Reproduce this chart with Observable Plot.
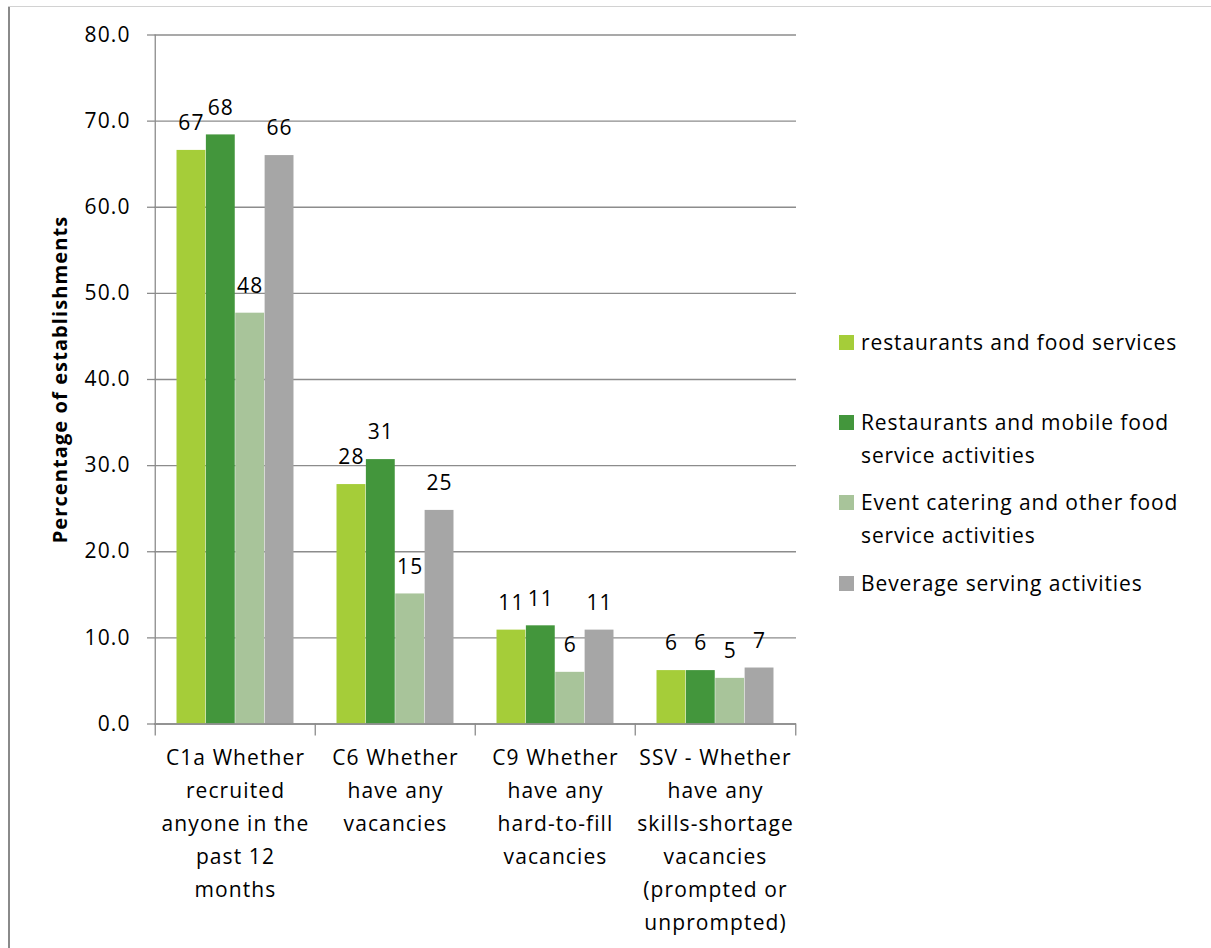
<!DOCTYPE html>
<html>
<head>
<meta charset="utf-8">
<script src="https://cdn.jsdelivr.net/npm/d3@7"></script>
<script src="https://cdn.jsdelivr.net/npm/@observablehq/plot@0.6"></script>
<style>
  html, body { margin: 0; padding: 0; background: #fff; }
  body { width: 1211px; height: 948px; position: relative; overflow: hidden; font-family: "Open Sans", Lato, sans-serif; }
  #chart { position: absolute; left: 0; top: 0; }
  #chart text { letter-spacing: 1.1px; }
  #chart text.ytitle { letter-spacing: 0.2px; }
  .border-left { position: absolute; left: 8px; top: 6px; width: 2px; height: 960px; background: #8a8a8a; }
  .border-top { position: absolute; left: 8px; top: 6px; width: 1220px; height: 1px; background: #d2d2d2; }
  .legend { position: absolute; left: 0; top: 0; color: #000; font-size: 21px; letter-spacing: 0.9px; }
  .item { position: absolute; left: 839px; }
  .sw { position: absolute; left: 0; width: 15px; height: 15px; }
  .lbl { position: absolute; left: 22px; line-height: 33px; white-space: nowrap; }
</style>
</head>
<body>
<div id="chart"></div>
<div class="border-left"></div>
<div class="border-top"></div>
<div class="legend" id="legend"></div>
<script>
// ---- data ----
const categories = ["C1a", "C6", "C9", "SSV"];
const categoryLabels = [
  "C1a Whether\nrecruited\nanyone in the\npast 12\nmonths",
  "C6 Whether\nhave any\nvacancies",
  "C9 Whether\nhave any\nhard-to-fill\nvacancies",
  "SSV - Whether\nhave any\nskills-shortage\nvacancies\n(prompted or\nunprompted)"
];
const seriesNames = [
  "restaurants and food services",
  "Restaurants and mobile food service activities",
  "Event catering and other food service activities",
  "Beverage serving activities"
];
const legendLines = [
  ["restaurants and food services"],
  ["Restaurants and mobile food", "service activities"],
  ["Event catering and other food", "service activities"],
  ["Beverage serving activities"]
];
const restaurantsFood = [66.6, 27.8, 10.9, 6.2];
const restaurantsMobile = [68.4, 30.7, 11.4, 6.2];
const eventCatering = [47.7, 15.1, 6.0, 5.3];
const beverageServing = [66.0, 24.8, 10.9, 6.5];
const yTicks = [0, 10, 20, 30, 40, 50, 60, 70, 80];
const colors = ["#a5cd39", "#43963c", "#a8c49a", "#a6a6a6"];

const seriesValues = [restaurantsFood, restaurantsMobile, eventCatering, beverageServing];
const rows = seriesValues.map((vals, j) =>
  categories.map((c, i) => ({category: c, value: vals[i], series: seriesNames[j], j}))
);

// ---- layout ----
const W = 810, H = 948;
const mL = 154, mR = 14, mT = 34.5, mB = 224.5;
const bw = (W - mL - mR) / categories.length;   // band width
const groupFrac = 0.732;
const barW = bw * groupFrac / seriesNames.length;
const off = bw * (1 - groupFrac) / 2;
const font = "'Open Sans', Lato, sans-serif";
const fs = 21;
const gridColor = "#8c8c8c";

const barMarks = rows.map((data, j) => Plot.barY(data, {
  x: "category", y: "value", fill: colors[j],
  insetLeft: off + j * barW,
  insetRight: bw - off - (j + 1) * barW
}));
const labelMarks = rows.map((data, j) => Plot.text(data, {
  x: "category", y: "value",
  text: d => String(Math.round(d.value)),
  dx: -bw / 2 + off + (j + 0.5) * barW,
  dy: -27, lineAnchor: "middle",
  fontSize: fs, fill: "#000"
}));

const chart = Plot.plot({
  width: W, height: H,
  marginLeft: mL, marginRight: mR, marginTop: mT, marginBottom: mB,
  style: {fontFamily: font, background: "transparent", overflow: "visible"},
  x: {domain: categories, padding: 0, axis: null},
  y: {domain: [0, 80], axis: null},
  marks: [
    Plot.ruleY(yTicks, {stroke: gridColor, strokeWidth: 1.3}),
    ...barMarks,
    Plot.ruleY([0], {stroke: gridColor, strokeWidth: 1.3}),
    // y axis line
    Plot.ruleX([categories[0]], {y1: 80, y2: 0, dx: -bw / 2, stroke: gridColor, strokeWidth: 1.3}),
    // y tick marks (outside, to the left of the axis)
    Plot.ruleY(yTicks, {insetLeft: -7, insetRight: W - mL - mR, stroke: gridColor, strokeWidth: 1.3}),
    // category boundary ticks
    Plot.ruleX(categories, {y1: 0, y2: 0, insetBottom: -12, dx: -bw / 2, stroke: gridColor, strokeWidth: 1.3}),
    Plot.ruleX([categories[categories.length - 1]], {y1: 0, y2: 0, insetBottom: -12, dx: bw / 2, stroke: gridColor, strokeWidth: 1.3}),
    ...labelMarks,
    // category labels
    Plot.text(categories, {
      x: d => d, text: (d, i) => categoryLabels[i],
      frameAnchor: "bottom", lineAnchor: "top", dy: 18,
      lineHeight: 33 / fs, fontSize: fs, fill: "#000"
    }),
    // y tick labels
    Plot.text(yTicks, {
      y: d => d, text: d => d3.format(".1f")(d),
      frameAnchor: "left", textAnchor: "end", dx: -24, lineAnchor: "middle",
      fontSize: fs, fill: "#000"
    }),
    // y axis title
    Plot.text(["Percentage of establishments"], {
      frameAnchor: "left", textAnchor: "middle", rotate: -90, dx: -94, className: "ytitle",
      fontSize: 20, fontWeight: "bold", fill: "#000"
    })
  ]
});
document.getElementById("chart").appendChild(chart);

// ---- legend ----
const legendPos = [342, 422, 502, 583];
const legend = document.getElementById("legend");
legendLines.forEach((lines, j) => {
  const item = document.createElement("div");
  item.className = "item";
  item.style.top = (legendPos[j] - 16.5) + "px";
  const sw = document.createElement("div");
  sw.className = "sw";
  sw.style.background = colors[j];
  sw.style.top = "9px";
  const lbl = document.createElement("div");
  lbl.className = "lbl";
  lbl.innerHTML = lines.join("<br>");
  item.appendChild(sw);
  item.appendChild(lbl);
  legend.appendChild(item);
});
</script>
</body>
</html>
